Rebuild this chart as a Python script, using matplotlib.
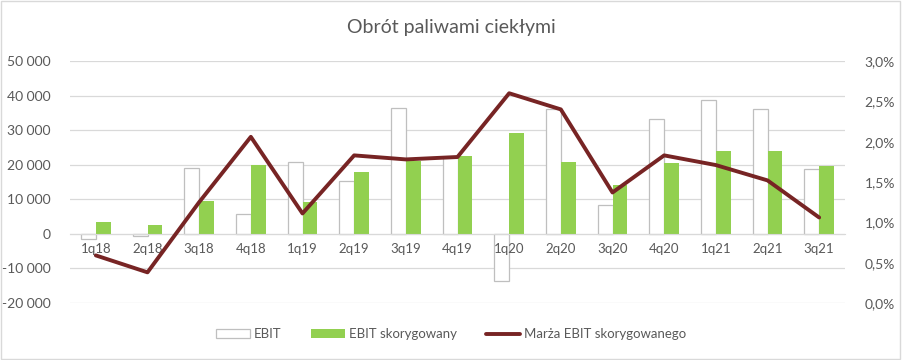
import matplotlib.pyplot as plt
from matplotlib.patches import Rectangle
from matplotlib.ticker import FuncFormatter
import numpy as np

plt.rcParams['font.family'] = ['Lato', 'DejaVu Sans']

# data
quarters = ["1q18", "2q18", "3q18", "4q18", "1q19", "2q19", "3q19", "4q19",
            "1q20", "2q20", "3q20", "4q20", "1q21", "2q21", "3q21"]
ebit = [-1500, -700, 19100, 5700, 20700, 15300, 36500, 22000,
        -13500, 36000, 8300, 33300, 38600, 36000, 18800]
ebit_adj = [3500, 2600, 9600, 19800, 9100, 18000, 21000, 22400,
            29100, 20900, 14200, 20600, 24100, 24100, 19500]
margin = [0.59, 0.38, 1.25, 2.06, 1.11, 1.83, 1.78, 1.81,
          2.60, 2.40, 1.37, 1.83, 1.71, 1.52, 1.06]

grey = "#595959"
fig = plt.figure(figsize=(9.02, 3.6), dpi=100)
ax = fig.add_axes([70 / 902, 1 - 303 / 360, 775 / 902, 242 / 360])
ax2 = ax.twinx()

x = np.arange(len(quarters))
w = 0.29
ax.bar(x - w / 2, ebit, w, color="white", edgecolor="#bfbfbf", linewidth=0.9,
       label="EBIT", zorder=2)
ax.bar(x + w / 2, ebit_adj, w, color="#92D050", label="EBIT skorygowany", zorder=2)
ax2.plot(x, margin, color="#772424", linewidth=2.8, solid_capstyle="round",
         label="Marża EBIT skorygowanego", zorder=3)

ax.set_xlim(-0.5, len(quarters) - 0.5)
ax.set_ylim(-20000, 50000)
ax.set_yticks(range(-20000, 50001, 10000))
ax.yaxis.set_major_formatter(FuncFormatter(lambda v, p: f"{int(v):,}".replace(",", " ")))
ax2.set_ylim(0, 3)
ax2.set_yticks(np.arange(0, 3.01, 0.5))
ax2.yaxis.set_major_formatter(FuncFormatter(lambda v, p: f"{v:.1f}%".replace(".", ",")))

ax.grid(axis="y", color="#d9d9d9", linewidth=0.9, zorder=0)
ax.set_axisbelow(True)
ax.set_xticks([])
# category labels sit just under the zero line, drawn over the bars
for xi, q in zip(x, quarters):
    ax.text(xi, -2600, q, ha="center", va="top", fontsize=9.5, color=grey, zorder=5)
ax.spines["bottom"].set_position(("data", 0))
ax.spines["bottom"].set_color("#d9d9d9")
for s in ["top", "left", "right"]:
    ax.spines[s].set_visible(False)
for s in ax2.spines.values():
    s.set_visible(False)
ax.tick_params(axis="both", length=0, colors=grey, labelsize=10)
ax.tick_params(axis="y", pad=14)
ax2.tick_params(axis="y", length=0, colors=grey, labelsize=10, pad=14)

fig.text(0.5, 1 - 28 / 360, "Obrót paliwami ciekłymi", ha="center", va="center",
         fontsize=14, color=grey)

h1, l1 = ax.get_legend_handles_labels()
h2, l2 = ax2.get_legend_handles_labels()
fig.legend(h1 + h2, l1 + l2, loc="center", bbox_to_anchor=(0.5, 1 - 334 / 360),
           ncol=3, frameon=False, fontsize=9.5, labelcolor=grey,
           handlelength=2.6, handleheight=0.6, columnspacing=2.2, handletextpad=0.3)

fig.patches.append(Rectangle((0.001, 0.002), 0.997, 0.995, transform=fig.transFigure,
                             fill=False, edgecolor="#d9d9d9", linewidth=1))

fig.savefig("out.png", dpi=100)
